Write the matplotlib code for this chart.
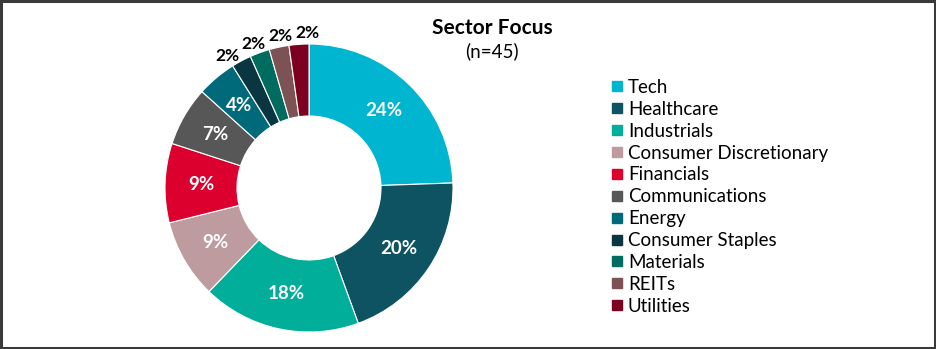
import matplotlib
matplotlib.use("Agg")
import matplotlib.pyplot as plt
from matplotlib.lines import Line2D
from matplotlib.patches import Rectangle
import numpy as np

plt.rcParams['font.family'] = ['Lato', 'DejaVu Sans']

sectors = ["Tech", "Healthcare", "Industrials", "Consumer Discretionary", "Financials",
           "Communications", "Energy", "Consumer Staples", "Materials", "REITs", "Utilities"]
counts = [11, 9, 8, 4, 4, 3, 2, 1, 1, 1, 1]
colors = ["#00B5CF", "#0E5361", "#00AE99", "#BE9B9E", "#DB002E", "#575757",
          "#006A7A", "#093640", "#006B5F", "#7C5254", "#7E0020"]
title = "Sector Focus"
subtitle = "(n=45)"

W, H = 936, 349
fig = plt.figure(figsize=(W / 100, H / 100), dpi=100)

# border
fig.patches.append(Rectangle((0.0015, 0.004), 0.997, 0.992, transform=fig.transFigure,
                             fill=False, edgecolor="#3a3a3a", linewidth=2.2))

cx, cy, R = 309, 188, 144
ax = fig.add_axes([(cx - R) / W, (H - cy - R) / H, 2 * R / W, 2 * R / H])
wedges, _ = ax.pie(counts, colors=colors, startangle=90, counterclock=False,
                   radius=1.0, wedgeprops=dict(width=0.5, edgecolor="white", linewidth=0.8))
ax.set_xlim(-1, 1)
ax.set_ylim(-1, 1)
ax.set_aspect('equal')
ax.axis('off')

total = sum(counts)
small_mids = [(w.theta1 + w.theta2) / 2 for w, c in zip(wedges, counts) if 100 * c / total < 4]
grp_center = np.mean(small_mids) if small_mids else 0
for w, c in zip(wedges, counts):
    pct = 100 * c / total
    mid = (w.theta1 + w.theta2) / 2
    if pct >= 4:
        r, col, fs = 0.75, "white", 13.5
        ang = mid
    else:
        r, col, fs = 1.075, "black", 12.5
        # spread crowded outside labels a little apart
        ang = grp_center + (mid - grp_center) * 1.3
    a = np.deg2rad(ang)
    ax.text(r * np.cos(a), r * np.sin(a), f"{pct:.0f}%", ha="center", va="center",
            fontsize=fs, fontweight="bold", color=col, clip_on=False)

fig.text(492 / W, 1 - 28 / H, title, ha="center", va="center", fontsize=15, fontweight="bold")
fig.text(492 / W, 1 - 51 / H, subtitle, ha="center", va="center", fontsize=13.5)

handles = [Line2D([], [], marker="s", linestyle="none", markersize=7.5, markerfacecolor=c,
                  markeredgecolor=c) for c in colors]
fig.legend(handles, sectors, loc="upper left", bbox_to_anchor=(611 / W, 1 - 79 / H),
           frameon=False, fontsize=13.5, labelspacing=0.26, handlelength=0.6,
           handletextpad=0.3, borderpad=0, borderaxespad=0)

fig.savefig("out.png", dpi=100)
